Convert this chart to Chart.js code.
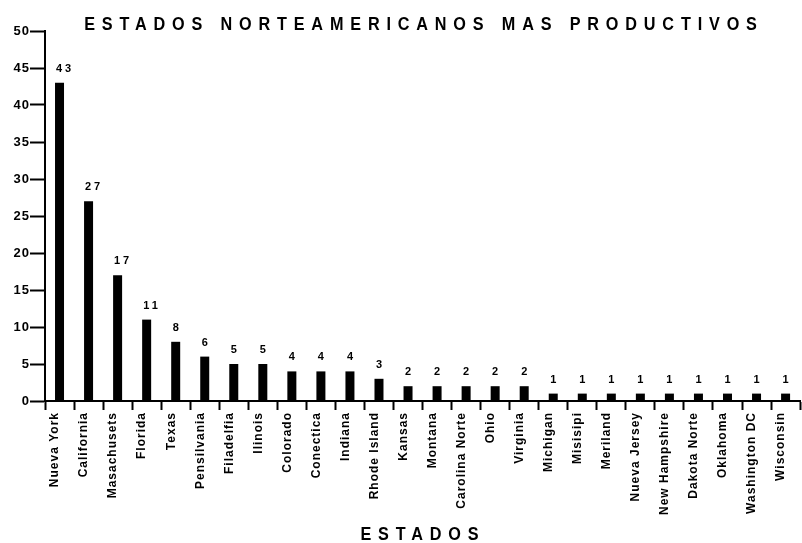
<!DOCTYPE html>
<html>
<head>
<meta charset="utf-8">
<script src="https://cdn.jsdelivr.net/npm/chart.js@4.4.1/dist/chart.umd.min.js"></script>
<style>
  html, body { margin: 0; padding: 0; background: #fff; }
  #contenedor { width: 802px; height: 543px; position: relative; }
</style>
</head>
<body>
<div id="contenedor"><canvas id="grafico-estados"></canvas></div>
<script>
// Datos del grafico
const estados = ['Nueva York', 'California', 'Masachusets', 'Florida', 'Texas', 'Pensilvania',
    'Filadelfia', 'Ilinois', 'Colorado', 'Conectica', 'Indiana', 'Rhode Island', 'Kansas',
    'Montana', 'Carolina Norte', 'Ohio', 'Virginia', 'Michigan', 'Misisipi', 'Meriland',
    'Nueva Jersey', 'New Hampshire', 'Dakota Norte', 'Oklahoma', 'Washington DC', 'Wisconsin'];
const valores = [43, 27, 17, 11, 8, 6, 5, 5, 4, 4, 4, 3, 2, 2, 2, 2, 2, 1, 1, 1, 1, 1, 1, 1, 1, 1];
const titulo = 'ESTADOS NORTEAMERICANOS MAS PRODUCTIVOS';
const tituloEjeX = 'ESTADOS';

const fuente = 'Arial, "Liberation Sans", sans-serif';

// Espaciado de letras para todo el texto de las escalas
const espaciado = {
    id: 'espaciado',
    beforeDraw(chart) {
        chart.ctx.letterSpacing = '1px';
    }
};

// Etiquetas con el valor encima de cada barra
const etiquetasValor = {
    id: 'etiquetasValor',
    afterDatasetsDraw(chart) {
        const ctx = chart.ctx;
        const meta = chart.getDatasetMeta(0);
        ctx.save();
        ctx.font = 'bold 11px ' + fuente;
        ctx.letterSpacing = '3px';
        ctx.fillStyle = '#000';
        ctx.textAlign = 'center';
        ctx.textBaseline = 'alphabetic';
        meta.data.forEach((barra, i) => {
            const txt = String(valores[i]);
            const extra = txt.length > 1 ? 4 : 0;
            ctx.fillText(txt, barra.x + 1.5 + extra, barra.y - 11);
        });
        ctx.restore();
    }
};

// Titulos con letras separadas
function textoEspaciado(ctx, txt, cx, base) {
    const sep = 7.6;
    ctx.save();
    ctx.font = 'bold 18px ' + fuente;
    ctx.letterSpacing = sep + 'px';
    ctx.fillStyle = '#000';
    ctx.textAlign = 'left';
    ctx.textBaseline = 'alphabetic';
    const w = ctx.measureText(txt).width - sep;
    ctx.translate(cx, base);
    ctx.scale(0.9, 1);
    ctx.fillText(txt, -w / 2, 0);
    ctx.restore();
}

const titulos = {
    id: 'titulos',
    afterDraw(chart) {
        textoEspaciado(chart.ctx, titulo, 420.5, 30);
        textoEspaciado(chart.ctx, tituloEjeX, 419.5, 540);
    }
};

const ctx = document.getElementById('grafico-estados').getContext('2d');
const grafico = new Chart(ctx, {
    type: 'bar',
    data: {
        labels: estados,
        datasets: [{
            label: 'Estados',
            data: valores,
            backgroundColor: '#000',
            borderWidth: 0,
            barPercentage: 0.31,
            categoryPercentage: 1
        }]
    },
    options: {
        responsive: true,
        maintainAspectRatio: false,
        animation: false,
        devicePixelRatio: 1,
        layout: { padding: { top: 31, right: 1, left: 0, bottom: 0 } },
        plugins: {
            legend: { display: false },
            title: { display: false },
            tooltip: { enabled: false }
        },
        scales: {
            x: {
                afterFit(scale) { scale.height = 142; },
                grid: {
                    offset: true,
                    drawOnChartArea: false,
                    drawTicks: true,
                    tickLength: 9,
                    tickWidth: 2,
                    tickColor: '#000'
                },
                border: { display: true, color: '#000', width: 2 },
                ticks: {
                    color: '#000',
                    font: { family: fuente, size: 12, weight: 'bold' },
                    minRotation: 90,
                    maxRotation: 90,
                    autoSkip: false,
                    padding: 2,
                    labelOffset: -4.5
                }
            },
            y: {
                min: 0,
                max: 50,
                afterFit(scale) { scale.width = 45; },
                grid: {
                    drawOnChartArea: false,
                    drawTicks: true,
                    tickLength: 15,
                    tickWidth: 2,
                    tickColor: '#000'
                },
                border: { display: true, color: '#000', width: 2 },
                ticks: {
                    stepSize: 5,
                    color: '#000',
                    padding: 0,
                    font: { family: fuente, size: 13, weight: 'bold' }
                }
            }
        }
    },
    plugins: [espaciado, etiquetasValor, titulos]
});
</script>
</body>
</html>
